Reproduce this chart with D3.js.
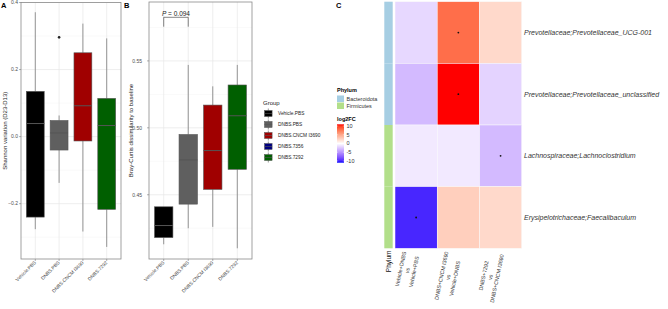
<!DOCTYPE html>
<html>
<head>
<meta charset="utf-8">
<script src="https://cdn.jsdelivr.net/npm/d3@7"></script>
<style>
  body { margin: 0; background: #fff; }
  svg { font-family: "Liberation Sans", Arial, sans-serif; }
</style>
</head>
<body>
<svg id="fig" width="668" height="309"></svg>
<script>
// boxplot groups (panels A and B)
const groups = ["Vehicle.PBS", "DNBS.PBS", "DNBS.CNCM I3690", "DNBS.7292"];
const legendGroups = ["Vehicle.PBS", "DNBS.PBS", "DNBS.CNCM I3690", "DNBS.7356", "DNBS.7292"];
const groupColors = ["#000000", "#5f5f5f", "#a00000", "#00007f", "#005f00"];

// panel A: Shannon variation (D23-D13), box stats per group
const shannonLow = [-0.276, -0.138, -0.283, -0.329];
const shannonQ1 = [-0.240, -0.040, -0.013, -0.217];
const shannonMed = [0.039, 0.011, 0.092, 0.033];
const shannonQ3 = [0.135, 0.048, 0.250, 0.114];
const shannonHigh = [0.371, 0.063, 0.337, 0.293];
const shannonOutliers = [{ group: "DNBS.PBS", value: 0.296 }];
const shannonTicks = [-0.2, 0, 0.2, 0.4];

// panel B: Bray-Curtis dissimilarity to baseline
const brayLow = [0.413, 0.425, 0.426, 0.410];
const brayQ1 = [0.418, 0.443, 0.454, 0.469];
const brayMed = [0.427, 0.476, 0.483, 0.509];
const brayQ3 = [0.441, 0.495, 0.517, 0.532];
const brayHigh = [0.441, 0.547, 0.531, 0.547];
const brayTicks = [0.45, 0.50, 0.55];
const pLabel = "0.094";

// panel C: heatmap of log2FC
const taxa = [
  "Prevotellaceae;Prevotellaceae_UCG-001",
  "Prevotellaceae;Prevotellaceae_unclassified",
  "Lachnospiraceae;Lachnoclostridium",
  "Erysipelotrichaceae;Faecalibaculum"
];
const phylum = ["Bacteroidota", "Bacteroidota", "Firmicutes", "Firmicutes"];
const phylumNames = ["Bacteroidota", "Firmicutes"];
const phylumColors = ["#a6cee3", "#b2df8a"];
const contrasts = [
  ["Vehicle+DNBS", "vs", "Vehicle+PBS"],
  ["DNBS+CNCM I3690", "vs", "Vehicle+DNBS"],
  ["DNBS+7292", "vs", "DNBS+CNCM I3690"]
];
const log2FC = [
  [-1.8, 8.0, 2.2],
  [-3.2, 11.0, -2.0],
  [-1.0, -1.0, -3.2],
  [-10.0, 2.8, 2.2]
];
const signif = [
  [0, 1, 0],
  [0, 1, 0],
  [0, 0, 1],
  [1, 0, 0]
];
const fcTicks = [10, 5, 0, -5, -10];

const svg = d3.select("#fig");
const tickCol = "#4d4d4d";
const borderCol = "#8a8a8a";

// panel letters
[["A", 1, 8], ["B", 124, 8], ["C", 336, 8]].forEach(([t, x, y]) => {
  svg.append("text").attr("x", x).attr("y", y).attr("font-size", 7.5)
    .attr("font-weight", "bold").text(t);
});

function boxPanel(cfg) {
  const g = svg.append("g");
  const x = d3.scalePoint().domain(groups).range([cfg.left, cfg.right]).padding(0.6);
  const y = d3.scaleLinear().domain(cfg.domain).range([cfg.bottom, cfg.top]);
  const bw = x.step() * 0.75;

  // grid: minor then major
  const minor = [];
  for (let i = 0; i < cfg.ticks.length + 1; i++) {
    const v = cfg.ticks[0] + (i - 0.5) * (cfg.ticks[1] - cfg.ticks[0]);
    if (v > cfg.domain[0] && v < cfg.domain[1]) minor.push(v);
  }
  g.selectAll(".minor").data(minor).enter().append("line")
    .attr("x1", cfg.left).attr("x2", cfg.right)
    .attr("y1", d => y(d)).attr("y2", d => y(d))
    .attr("stroke", "#f2f2f2").attr("stroke-width", 0.5);
  g.selectAll(".major").data(cfg.ticks).enter().append("line")
    .attr("x1", cfg.left).attr("x2", cfg.right)
    .attr("y1", d => y(d)).attr("y2", d => y(d))
    .attr("stroke", "#e6e6e6").attr("stroke-width", 0.7);
  g.selectAll(".vgrid").data(groups).enter().append("line")
    .attr("x1", d => x(d)).attr("x2", d => x(d))
    .attr("y1", cfg.top).attr("y2", cfg.bottom)
    .attr("stroke", "#e6e6e6").attr("stroke-width", 0.7);

  // whiskers
  groups.forEach((gr, i) => {
    g.append("line").attr("x1", x(gr)).attr("x2", x(gr))
      .attr("y1", y(cfg.hi[i])).attr("y2", y(cfg.q3[i]))
      .attr("stroke", "#555").attr("stroke-width", 0.6);
    g.append("line").attr("x1", x(gr)).attr("x2", x(gr))
      .attr("y1", y(cfg.q1[i])).attr("y2", y(cfg.lo[i]))
      .attr("stroke", "#555").attr("stroke-width", 0.6);
  });
  // boxes
  g.selectAll(".box").data(groups).enter().append("rect")
    .attr("x", d => x(d) - bw / 2).attr("width", bw)
    .attr("y", (d, i) => y(cfg.q3[i]))
    .attr("height", (d, i) => y(cfg.q1[i]) - y(cfg.q3[i]))
    .attr("fill", d => groupColors[legendGroups.indexOf(d)])
    .attr("stroke", "#555").attr("stroke-width", 0.6);
  g.selectAll(".med").data(groups).enter().append("line")
    .attr("x1", d => x(d) - bw / 2).attr("x2", d => x(d) + bw / 2)
    .attr("y1", (d, i) => y(cfg.med[i])).attr("y2", (d, i) => y(cfg.med[i]))
    .attr("stroke", "#555").attr("stroke-width", 1);
  (cfg.outliers || []).forEach(o => {
    g.append("circle").attr("cx", x(o.group)).attr("cy", y(o.value))
      .attr("r", 1.3).attr("fill", "#222");
  });

  // border
  g.append("rect").attr("x", cfg.left).attr("y", cfg.top)
    .attr("width", cfg.right - cfg.left).attr("height", cfg.bottom - cfg.top)
    .attr("fill", "none").attr("stroke", borderCol).attr("stroke-width", 0.8);

  // y axis ticks + labels
  cfg.ticks.forEach(t => {
    g.append("line").attr("x1", cfg.left - 2).attr("x2", cfg.left)
      .attr("y1", y(t)).attr("y2", y(t)).attr("stroke", "#666").attr("stroke-width", 0.5);
    g.append("text").attr("x", cfg.left - cfg.labelGap).attr("y", y(t) + 1.8)
      .attr("text-anchor", "end").attr("font-size", 5).attr("fill", tickCol)
      .text(cfg.fmt(t));
  });
  // x axis ticks + labels
  groups.forEach(gr => {
    g.append("line").attr("x1", x(gr)).attr("x2", x(gr))
      .attr("y1", cfg.bottom).attr("y2", cfg.bottom + 2)
      .attr("stroke", "#666").attr("stroke-width", 0.5);
    g.append("text").attr("transform", `translate(${x(gr) + 1},${cfg.bottom + 4}) rotate(-45)`)
      .attr("text-anchor", "end").attr("font-size", 4.8).attr("fill", tickCol)
      .text(gr);
  });
  // y title
  g.append("text").attr("transform", `translate(${cfg.titleX},${(cfg.top + cfg.bottom) / 2}) rotate(-90)`)
    .attr("text-anchor", "middle").attr("font-size", 6).attr("fill", "#222")
    .text(cfg.title);
  return { x, y };
}

boxPanel({
  left: 21, right: 121, top: 2.5, bottom: 259,
  domain: [-0.365, 0.4], ticks: shannonTicks, fmt: d3.format(".1f"),
  lo: shannonLow, q1: shannonQ1, med: shannonMed, q3: shannonQ3, hi: shannonHigh,
  outliers: shannonOutliers, labelGap: 3, titleX: 7,
  title: "Shannon variation (D23-D13)"
});

const pB = boxPanel({
  left: 149, right: 252, top: 2, bottom: 259,
  domain: [0.402, 0.594], ticks: brayTicks, fmt: d3.format(".2f"),
  lo: brayLow, q1: brayQ1, med: brayMed, q3: brayQ3, hi: brayHigh,
  labelGap: 7, titleX: 133,
  title: "Bray-Curtis dissimilarity to baseline"
});

// significance bracket
const bx1 = pB.x(groups[0]), bx2 = pB.x(groups[1]);
svg.append("path")
  .attr("d", `M${bx1},26.7V17.3H${bx2}V26.7`)
  .attr("fill", "none").attr("stroke", "#333").attr("stroke-width", 0.6);
const pt = svg.append("text").attr("x", (bx1 + bx2) / 2).attr("y", 15.5)
  .attr("text-anchor", "middle").attr("font-size", 6.5).attr("fill", "#222");
pt.append("tspan").attr("font-style", "italic").text("P");
pt.append("tspan").text(" = " + pLabel);

// Group legend
const lg = svg.append("g");
lg.append("text").attr("x", 263).attr("y", 105).attr("font-size", 6).attr("fill", "#222").text("Group");
legendGroups.forEach((gr, i) => {
  const cy = 113.5 + i * 11;
  lg.append("line").attr("x1", 268.3).attr("x2", 268.3).attr("y1", cy - 5).attr("y2", cy + 5)
    .attr("stroke", "#555").attr("stroke-width", 0.6);
  lg.append("rect").attr("x", 264.5).attr("y", cy - 3).attr("width", 7.6).attr("height", 6)
    .attr("fill", groupColors[i]).attr("stroke", "#555").attr("stroke-width", 0.5);
  lg.append("line").attr("x1", 264.5).attr("x2", 272.1).attr("y1", cy).attr("y2", cy)
    .attr("stroke", "#555").attr("stroke-width", 0.6);
  lg.append("text").attr("x", 278).attr("y", cy + 1.8).attr("font-size", 4.8).attr("fill", "#222").text(gr);
});

// Heatmap
const fcColor = d3.scaleLinear().domain([-11, 0, 11]).range(["blue", "white", "red"])
  .interpolate(d3.interpolateLab).clamp(true);
const hx = d3.scaleBand().domain(d3.range(contrasts.length)).range([395, 521.7]);
const hy = d3.scaleBand().domain(taxa).range([1.7, 248.3]);
const hm = svg.append("g");

taxa.forEach((t, r) => {
  contrasts.forEach((c, k) => {
    hm.append("rect").attr("x", hx(k)).attr("y", hy(t))
      .attr("width", hx.bandwidth()).attr("height", hy.bandwidth())
      .attr("fill", fcColor(log2FC[r][k])).attr("stroke", "#fafafa").attr("stroke-width", 0.5);
    if (signif[r][k]) {
      hm.append("circle").attr("cx", hx(k) + hx.bandwidth() / 2).attr("cy", hy(t) + hy.bandwidth() / 2)
        .attr("r", 0.9).attr("fill", "#111");
    }
  });
  // phylum annotation
  hm.append("rect").attr("x", 384.3).attr("y", hy(t)).attr("width", 8.4).attr("height", hy.bandwidth())
    .attr("fill", phylumColors[phylumNames.indexOf(phylum[r])]);
  hm.append("text").attr("x", 524).attr("y", hy(t) + hy.bandwidth() / 2 + 2.4)
    .attr("font-size", 7).attr("font-style", "italic").attr("fill", "#333").text(t);
});

hm.append("text").attr("transform", "translate(390.8,250.5) rotate(-90)")
  .attr("text-anchor", "end").attr("font-size", 6.5).attr("fill", "#111").text("Phylum");

// column labels, multi-line, rotated
contrasts.forEach((lines, k) => {
  const cx = hx(k) + hx.bandwidth() / 2;
  const cg = hm.append("g").attr("transform", `translate(${cx - 5},253) rotate(-78)`);
  const texts = lines.map((l, j) => cg.append("text").attr("y", (j - 1) * 6.8 + 1.8)
    .attr("text-anchor", "middle").attr("font-size", 5.4).attr("fill", "#333").text(l));
  const maxW = d3.max(texts, t => t.node().getComputedTextLength());
  texts.forEach(t => t.attr("x", -maxW / 2));
});

// Phylum legend
const pl = svg.append("g");
pl.append("text").attr("x", 337).attr("y", 92).attr("font-size", 5.5).attr("font-weight", "bold").text("Phylum");
phylumNames.forEach((p, i) => {
  pl.append("rect").attr("x", 337).attr("y", 95.5 + i * 7).attr("width", 7).attr("height", 6.5)
    .attr("fill", phylumColors[i]);
  pl.append("text").attr("x", 346.5).attr("y", 100.8 + i * 7).attr("font-size", 5.5).attr("fill", "#333").text(p);
});

// log2FC colour bar
pl.append("text").attr("x", 337).attr("y", 120.5).attr("font-size", 5.5).attr("font-weight", "bold").text("log2FC");
const cbY = d3.scaleLinear().domain([11, -11]).range([124.3, 162.7]);
const grad = svg.append("defs").append("linearGradient").attr("id", "fcgrad")
  .attr("x1", 0).attr("x2", 0).attr("y1", 0).attr("y2", 1);
d3.range(0, 1.0001, 0.05).forEach(s => {
  grad.append("stop").attr("offset", s).attr("stop-color", fcColor(11 - 22 * s));
});
pl.append("rect").attr("x", 337).attr("y", cbY(11)).attr("width", 7)
  .attr("height", cbY(-11) - cbY(11)).attr("fill", "url(#fcgrad)");
fcTicks.forEach(t => {
  pl.append("line").attr("x1", 337).attr("x2", 338.2).attr("y1", cbY(t)).attr("y2", cbY(t))
    .attr("stroke", "#fff").attr("stroke-width", 0.4);
  pl.append("line").attr("x1", 342.8).attr("x2", 344).attr("y1", cbY(t)).attr("y2", cbY(t))
    .attr("stroke", "#fff").attr("stroke-width", 0.4);
  pl.append("text").attr("x", 346.5).attr("y", cbY(t) + 1.9).attr("font-size", 5.5)
    .attr("fill", "#333").text(t);
});
</script>
</body>
</html>
